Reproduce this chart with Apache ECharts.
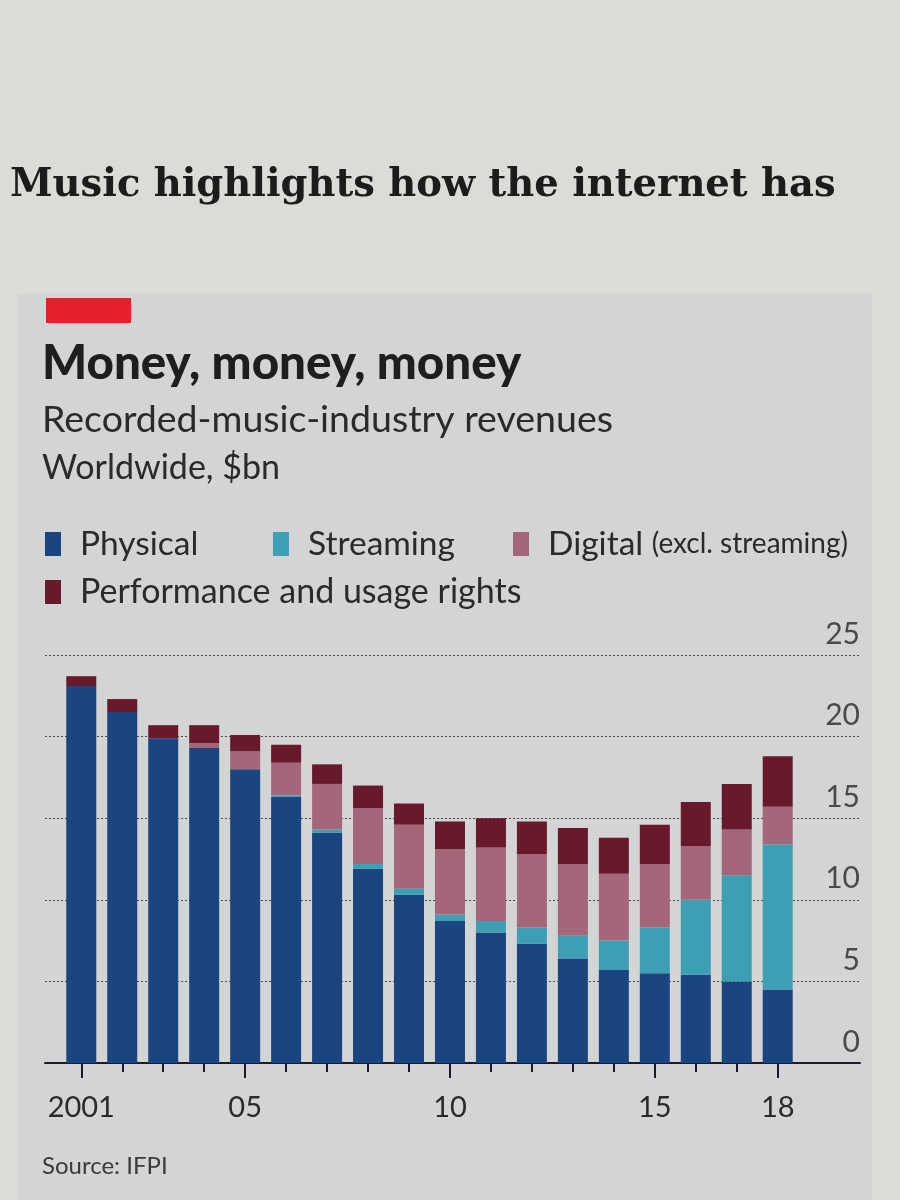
<!DOCTYPE html>
<html>
<head>
<meta charset="utf-8">
<script src="https://cdn.jsdelivr.net/npm/echarts@6/dist/echarts.min.js"></script>
<style>
html,body{margin:0;padding:0;background:#dcdbd7;}
#chart{width:900px;height:1200px;}
</style>
</head>
<body>
<div id="chart"></div>
<script>
// ---- data (US$bn) ----
const years = ['2001','2002','2003','2004','2005','2006','2007','2008','2009','2010','2011','2012','2013','2014','2015','2016','2017','2018'];
const physical    = [23.1,21.5,19.9,19.3,18.0,16.3,14.1,11.9,10.3,8.7,8.0,7.3,6.4,5.7,5.5,5.4,5.0,4.5];
const streaming   = [0,0,0,0,0,0.1,0.2,0.3,0.4,0.4,0.7,1.0,1.4,1.8,2.8,4.6,6.5,8.9];
const digital     = [0,0,0,0.3,1.1,2.0,2.8,3.4,3.9,4.0,4.5,4.5,4.4,4.1,3.9,3.3,2.8,2.3];
const performance = [0.6,0.8,0.8,1.1,1.0,1.1,1.2,1.4,1.3,1.7,1.8,2.0,2.2,2.2,2.4,2.7,2.8,3.1];
const labeledYears = ['2001','2005','2010','2015','2018'];
const yTicks = [0,5,10,15,20,25];

const seriesNames = ['Physical','Streaming','Digital (excl. streaming)','Performance and usage rights'];
const colors = ['#1a4580','#3e9fb4','#a4677a','#681a2c'];

const chart = echarts.init(document.getElementById('chart'));
const sans = 'Lato, "Open Sans", sans-serif';
const isLabeled = (i) => labeledYears.includes(years[i]);

const gridTop = 655, gridBottom = 137;

const legendText = {fontFamily:sans, fontSize:33.5, color:'#2a2a2a', padding:[0,0,0,14],
  rich:{a:{fontFamily:sans, fontSize:33.5, color:'#2a2a2a'}, b:{fontFamily:sans, fontSize:28, color:'#2a2a2a'}}};
const mkLegend = (name, left, top, size) => ({
  data:[name], left:left, top:top, padding:0, icon:'rect', itemWidth:16, itemHeight:24, selectedMode:false,
  textStyle: Object.assign({}, legendText, size ? {fontSize:size} : {}),
  formatter: (n) => n.startsWith('Digital') ? '{a|Digital} {b|(excl. streaming)}' : n
});

const option = {
  backgroundColor: '#dcdbd7',
  animation: false,
  graphic: [
    {type:'rect', shape:{x:18,y:294,width:854,height:906}, style:{fill:'#d2d5d4'}, z:-10},
    {type:'text', style:{text:'Music highlights how the internet has', x:10, y:186, textVerticalAlign:'middle',
      font:'bold 38.5px "DejaVu Serif", serif', fill:'#1c1c1c'}},
    {type:'rect', shape:{x:46,y:298,width:85,height:25}, style:{fill:'#e3202b'}},
    {type:'text', style:{text:'Money, money, money', x:42, y:364, textVerticalAlign:'middle',
      font:'900 47.5px ' + sans, fill:'#1e1e1e'}},
    {type:'text', style:{text:'Recorded-music-industry revenues', x:42, y:420, textVerticalAlign:'middle',
      font:'37.5px ' + sans, fill:'#2a2a2a'}},
    {type:'text', style:{text:'Worldwide, $bn', x:42, y:468, textVerticalAlign:'middle',
      font:'34px ' + sans, fill:'#2a2a2a'}},
    {type:'text', style:{text:'Source: IFPI', x:42, y:1166, textVerticalAlign:'middle',
      font:'24px ' + sans, fill:'#3a3a3a'}}
  ],
  legend: [
    mkLegend(seriesNames[0], 45, 527),
    mkLegend(seriesNames[1], 273, 527),
    mkLegend(seriesNames[2], 513, 527),
    mkLegend(seriesNames[3], 45, 575, 34)
  ],
  grid: [
    {left:45, right:40, top:gridTop, bottom:gridBottom},
    {left:60.8, right:101.8, top:gridTop, bottom:gridBottom}
  ],
  xAxis: [
    {type:'value', gridIndex:0, min:0, max:1, axisLine:{show:true, lineStyle:{color:'#1a1a28', width:2}},
      axisTick:{show:false}, axisLabel:{show:false}, splitLine:{show:false}},
    {type:'category', gridIndex:1, data:years, position:'bottom',
      axisLine:{show:false}, axisTick:{show:true, length:9, alignWithLabel:true, lineStyle:{color:'#1a1a28', width:2}},
      axisLabel:{show:false}},
    {type:'category', gridIndex:1, data:years, position:'bottom',
      axisLine:{show:false},
      axisTick:{show:true, length:15, alignWithLabel:true, interval:(i)=>isLabeled(i), lineStyle:{color:'#1a1a28', width:2}},
      axisLabel:{show:true, interval:(i)=>isLabeled(i), margin:30, fontFamily:sans, fontSize:29, color:'#2a2a2a',
        formatter:(v,i)=> i===0 ? v : v.slice(2)}}
  ],
  yAxis: [
    {type:'value', gridIndex:0, min:0, max:25, interval:5, position:'right',
      axisLine:{show:false}, axisTick:{show:false},
      splitLine:{show:true, lineStyle:{color:'#4a4a4a', width:1, type:[2,2]}},
      axisLabel:{show:true, inside:true, margin:0, align:'right', verticalAlign:'bottom', padding:[0,0,6,0],
        fontFamily:sans, fontSize:30, color:'#4a4a4a',
        formatter:(v)=> yTicks.includes(v) ? String(v) : ''}},
    {type:'value', gridIndex:1, min:0, max:25, interval:5, show:false, splitLine:{show:false}}
  ],
  series: [physical, streaming, digital, performance].map((d, k) => ({
    name: seriesNames[k], type:'bar', stack:'total', xAxisIndex:1, yAxisIndex:1,
    data: d, barWidth:30, itemStyle:{color:colors[k]}
  })),
  color: colors
};
chart.setOption(option);
</script>
</body>
</html>
